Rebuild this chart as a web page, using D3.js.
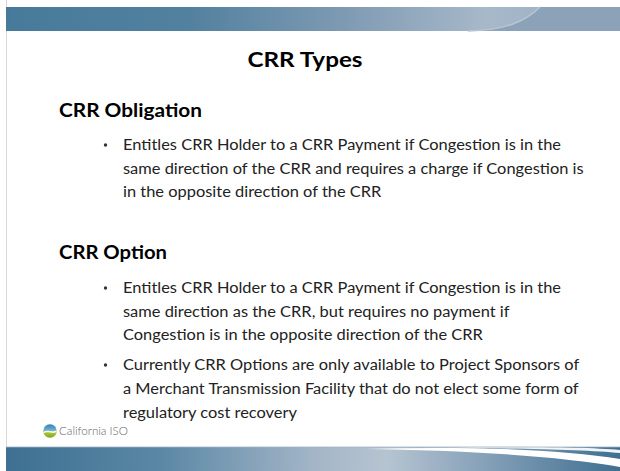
<!DOCTYPE html>
<html><head><meta charset="utf-8">
<script src="https://cdn.jsdelivr.net/npm/d3@7"></script>
<style>html,body{margin:0;padding:0;background:#fff;overflow:hidden}svg{display:block}</style>
</head><body>
<script>
// ---- content ----
const title = "CRR Types";
const sections = ["CRR Obligation", "CRR Option"];
const obligationBullets = [
  ["Entitles CRR Holder to a CRR Payment if Congestion is in the",
   "same direction of the CRR and requires a charge if Congestion is",
   "in the opposite direction of the CRR"]
];
const optionBullets = [
  ["Entitles CRR Holder to a CRR Payment if Congestion is in the",
   "same direction as the CRR, but requires no payment if",
   "Congestion is in the opposite direction of the CRR"],
  ["Currently CRR Options are only available to Project Sponsors of",
   "a Merchant Transmission Facility that do not elect some form of",
   "regulatory cost recovery"]
];
const logoText = "California ISO";

// ---- layout ----
const W = 620, H = 471;
const svg = d3.select("body").append("svg").attr("width", W).attr("height", H);
const defs = svg.append("defs");

function lg(id, stops, x1=0,y1=0,x2=1,y2=0){
  const g = defs.append("linearGradient").attr("id", id)
    .attr("x1",x1).attr("y1",y1).attr("x2",x2).attr("y2",y2);
  stops.forEach(s => g.append("stop").attr("offset", s[0]).attr("stop-color", s[1]));
}
lg("topG", [[0,"#477a9a"],[0.3,"#52819f"],[0.55,"#7e9ab3"],[0.78,"#a7b8c9"],[0.9,"#9fb2c4"],[1,"#8ba1b7"]]);
lg("botG", [[0,"#3e7092"],[0.25,"#5a87a5"],[0.5,"#a3b5c7"],[0.62,"#b6c4d1"],[0.8,"#7f9cb5"],[1,"#3f6f90"]]);
lg("logoG", [[0,"#2f7fb8"],[0.45,"#6fb0d6"],[0.55,"#b9cf3a"],[1,"#7aa326"]],0,0,0,1);

// left page border
svg.append("line").attr("x1",6.5).attr("x2",6.5).attr("y1",0).attr("y2",H)
  .attr("stroke","#d9d9d9").attr("stroke-width",1);

// top banner
svg.append("rect").attr("x",6).attr("y",7).attr("width",W-6).attr("height",24).attr("fill","url(#topG)");
svg.append("path").attr("d","M468,31 C505,30 525,22 540,7 L620,7 L620,31 Z").attr("fill","#8ca2b8");
svg.append("path").attr("d","M468,31 C505,30 525,22 540,7").attr("fill","none").attr("stroke","#b7c5d3").attr("stroke-width",1.5);

// bottom banner
svg.append("rect").attr("x",6).attr("y",447).attr("width",W-6).attr("height",H-447).attr("fill","url(#botG)");
svg.append("path").attr("d","M365,449 C460,446 560,449 620,459 L620,467 C560,456 460,450 365,449 Z").attr("fill","#ffffff");
svg.append("path").attr("d","M420,447.5 C510,446 585,447 620,450 L620,453 C585,449.5 510,448 420,447.5 Z").attr("fill","#f2f5f8");
svg.append("path").attr("d","M6,447 L620,447").attr("stroke","#9fb3c6").attr("stroke-width",0.8);

const bodyFont = "Lato, 'Open Sans', sans-serif";

// title
const tt = svg.append("text").attr("x",305).attr("y",67).attr("text-anchor","middle")
  .attr("font-family",bodyFont).attr("font-weight",700).attr("font-size",21)
  .attr("fill","#000").text(title);
const tw = tt.node().getComputedTextLength();
tt.attr("textLength", 115).attr("lengthAdjust","spacingAndGlyphs");

// calibration for body text width (Calibri-like condensed)
const bodySize = 14.6;
const probe = svg.append("text").attr("font-family",bodyFont).attr("font-size",bodySize)
  .text(obligationBullets[0][0]);
const k = 438 / probe.node().getComputedTextLength();
probe.remove();

function heading(txt, y, targetW){
  const t = svg.append("text").attr("x",59).attr("y",y)
    .attr("font-family",bodyFont).attr("font-weight",700).attr("font-size",18.5)
    .attr("fill","#000").text(txt);
  t.attr("textLength", targetW).attr("lengthAdjust","spacingAndGlyphs");
}
function bullets(list, baselines){
  list.forEach((lines, bi) => {
    svg.append("circle").attr("cx",105.5).attr("cy",baselines[bi][0]-5).attr("r",1.7).attr("fill","#333");
    lines.forEach((ln, li) => {
      const t = svg.append("text").attr("x",123).attr("y",baselines[bi][li])
        .attr("font-family",bodyFont).attr("font-size",bodySize).attr("fill","#222").text(ln);
      const w = t.node().getComputedTextLength();
      t.attr("textLength", w*k).attr("lengthAdjust","spacingAndGlyphs");
    });
  });
}
heading(sections[0], 117, 143);
bullets(obligationBullets, [[150,173.5,197]]);
heading(sections[1], 259, 108);
bullets(optionBullets, [[293,316.5,340],[370,394,418]]);

// logo
const lgG = svg.append("g").attr("transform","translate(50,431)");
lgG.append("circle").attr("r",6.8).attr("fill","url(#logoG)");
lgG.append("path").attr("d","M-6.5,1 C-3,-2.5 3,2.5 6.5,-1 L6.5,0.8 C3,4 -3,-1 -6.5,2.6 Z").attr("fill","#ffffff").attr("opacity",0.9);
svg.append("text").attr("x",59).attr("y",435).attr("font-family",bodyFont).attr("font-weight",300)
  .attr("font-size",11.5).attr("fill","#666").attr("textLength",69).attr("lengthAdjust","spacingAndGlyphs").text(logoText);
</script>
</body></html>
